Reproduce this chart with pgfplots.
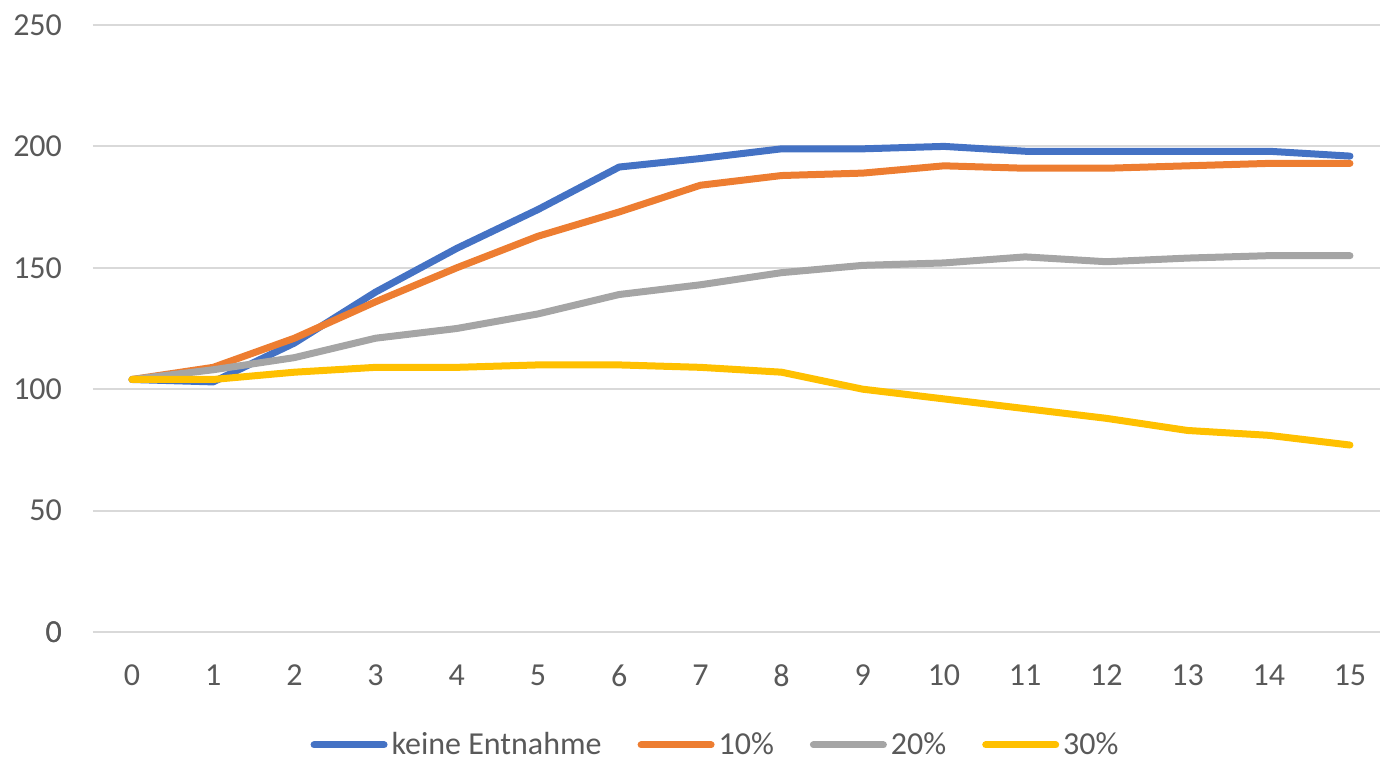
\documentclass[border=0pt]{standalone}
\usepackage{pgfplots}
\pgfplotsset{compat=1.18}
\usepackage{fontspec}
\setmainfont{Carlito}

\definecolor{cBlue}{HTML}{4472C4}
\definecolor{cOrange}{HTML}{ED7D31}
\definecolor{cGray}{HTML}{A5A5A5}
\definecolor{cYellow}{HTML}{FFC000}
\definecolor{cText}{HTML}{595959}
\definecolor{cGrid}{HTML}{D9D9D9}

\begin{document}
\begin{tikzpicture}
\begin{axis}[
  scale only axis,
  width=643.5pt, height=303.5pt,
  xmin=-0.48, xmax=15.37,
  ymin=0, ymax=250,
  xtick={0,...,15},
  ytick={0,50,...,250},
  axis line style={draw=none},
  axis x line*=bottom,
  major tick length=0pt,
  ymajorgrids,
  grid style={cGrid, line width=1pt},
  extra y ticks={0},
  extra y tick style={grid style={cGrid, line width=1pt}},
  tick label style={font=\fontsize{16}{19}\selectfont, text=cText},
  /pgf/number format/assume math mode=true,
  yticklabel style={anchor=east, xshift=-12pt},
  xticklabel style={anchor=north, yshift=-13pt},
  legend style={
    draw=none, fill=none,
    font=\fontsize{16}{19}\selectfont,
    text=cText,
    at={(rel axis cs:0.4845,-0.186)}, anchor=center,
    legend columns=4,
    /tikz/every even column/.append style={column sep=16pt},
    inner sep=0pt, row sep=0pt,
    legend cell align=left,
  },
  legend image code/.code={
    \draw[line width=3.5pt, line cap=round] (0pt,0pt) -- (35pt,0pt);
  },
  every axis plot/.append style={line width=3.5pt, line cap=round, line join=round, mark=none},
]
% Bestand ohne und mit Entnahme
\addplot[cBlue] coordinates {
  (0,104) (1,103) (2,119) (3,140) (4,158) (5,174) (6,191.5) (7,195)
  (8,199) (9,199) (10,200) (11,198) (12,198) (13,198) (14,198) (15,196)
};
\addlegendentry{keine Entnahme}
\addplot[cOrange] coordinates {
  (0,104) (1,109) (2,121) (3,136) (4,150) (5,163) (6,173) (7,184)
  (8,188) (9,189) (10,192) (11,191) (12,191) (13,192) (14,193) (15,193)
};
\addlegendentry{10\%}
\addplot[cGray] coordinates {
  (0,104) (1,108) (2,113) (3,121) (4,125) (5,131) (6,139) (7,143)
  (8,148) (9,151) (10,152) (11,154.5) (12,152.5) (13,154) (14,155) (15,155)
};
\addlegendentry{20\%}
\addplot[cYellow] coordinates {
  (0,104) (1,104) (2,107) (3,109) (4,109) (5,110) (6,110) (7,109)
  (8,107) (9,100) (10,96) (11,92) (12,88) (13,83) (14,81) (15,77)
};
\addlegendentry{30\%}
\coordinate (bl) at (rel axis cs:0,0);
\coordinate (tr) at (rel axis cs:1,1);
\end{axis}
\pgfresetboundingbox
\path[use as bounding box] ([xshift=-46.5pt,yshift=-64pt]bl) rectangle ([xshift=0.5pt,yshift=12.5pt]tr);
\end{tikzpicture}
\end{document}
